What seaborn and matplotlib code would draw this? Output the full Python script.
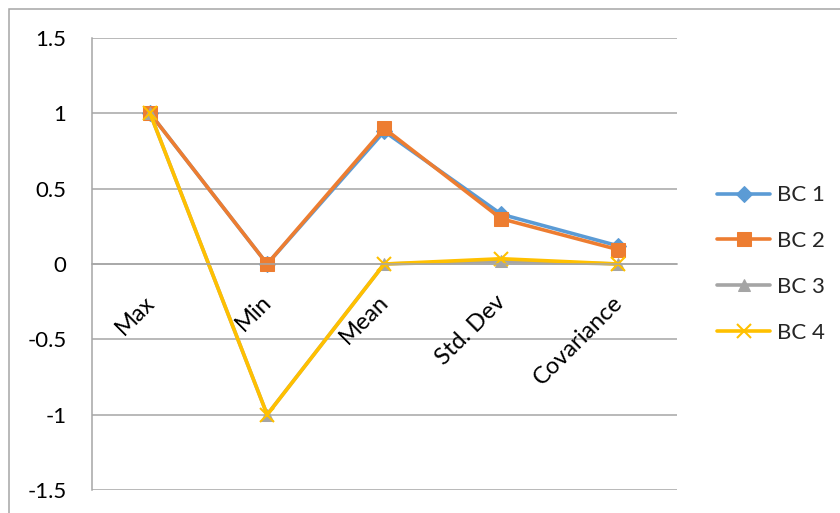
import matplotlib
matplotlib.use("Agg")
import matplotlib.pyplot as plt
import seaborn as sns
import numpy as np
from matplotlib.patches import Rectangle

categories = ["Max", "Min", "Mean", "Std. Dev", "Covariance"]
bc1 = [1.0, 0.0, 0.88, 0.33, 0.12]
bc2 = [1.0, 0.0, 0.90, 0.30, 0.095]
bc3 = [1.0, -1.0, 0.0, 0.02, 0.0]
bc4 = [1.0, -1.0, 0.0, 0.035, 0.0]
series_names = ["BC 1", "BC 2", "BC 3", "BC 4"]
yticks = [-1.5, -1, -0.5, 0, 0.5, 1, 1.5]
ytick_labels = ["-1.5", "-1", "-0.5", "0", "0.5", "1", "1.5"]

sns.set_style("white")
plt.rcParams['font.family'] = ['Lato', 'DejaVu Sans']

W, H = 840, 513
fig = plt.figure(figsize=(W / 100, H / 100), dpi=100)
ax = fig.add_axes([91.5 / W, 1 - 490 / H, (677 - 91.5) / W, (490 - 38) / H])

colors = ["#5B9BD5", "#ED7D31", "#A5A5A5", "#FFC000"]
markers = ["D", "s", "^", "x"]
msizes = [8, 10, 9, 10]
x = np.arange(len(categories))
for vals, name, c, m, ms in zip([bc1, bc2, bc3, bc4], series_names, colors, markers, msizes):
    kw = dict(markeredgecolor=c, markerfacecolor=c)
    if m == "x":
        kw = dict(markeredgecolor=c, markeredgewidth=1.5)
    sns.lineplot(x=x, y=vals, ax=ax, color=c, linewidth=2.6, marker=m,
                 markersize=ms, label=name, **kw)

grid_c = "#A6A6A6"
ax.set_xlim(-0.5, len(categories) - 0.5)
ax.set_ylim(-1.5, 1.5)
ax.set_yticks(yticks)
ax.set_yticklabels(ytick_labels, fontsize=16)
ax.yaxis.grid(True, color=grid_c, linewidth=1.1)
ax.set_axisbelow(True)
for s in ["top", "right"]:
    ax.spines[s].set_visible(False)
ax.spines["left"].set_color(grid_c)
ax.spines["left"].set_linewidth(1.1)
ax.spines["bottom"].set_position(("data", 0))
ax.spines["bottom"].set_color(grid_c)
ax.spines["bottom"].set_linewidth(1.1)
ax.set_xticks(np.arange(-0.5, len(categories), 1.0))
ax.set_xticklabels([])
ax.tick_params(axis="x", direction="out", length=6, color=grid_c, width=1.1)
ax.tick_params(axis="y", direction="out", length=6, color=grid_c, width=1.1, pad=12, labelcolor="black")
ax.set_xlabel("")
ax.set_ylabel("")

for i, cat in enumerate(categories):
    ax.annotate(cat, xy=(i, 0), xytext=(1, -35), textcoords="offset pixels",
                rotation=45, rotation_mode="anchor", ha="right", va="center",
                fontsize=17, color="black")

leg = ax.legend(loc="center left", bbox_to_anchor=(717 / W, 1 - 264 / H),
                bbox_transform=fig.transFigure, frameon=False, fontsize=16,
                handlelength=2.4, handletextpad=0.3, labelspacing=1.16,
                borderpad=0, borderaxespad=0)

fig.patches.append(Rectangle((9 / W, -0.1), 2, 1 - 9 / H + 0.1, fill=False,
                             edgecolor="#A6A6A6", linewidth=1.1,
                             transform=fig.transFigure, figure=fig))

fig.savefig("out.png", dpi=100)
